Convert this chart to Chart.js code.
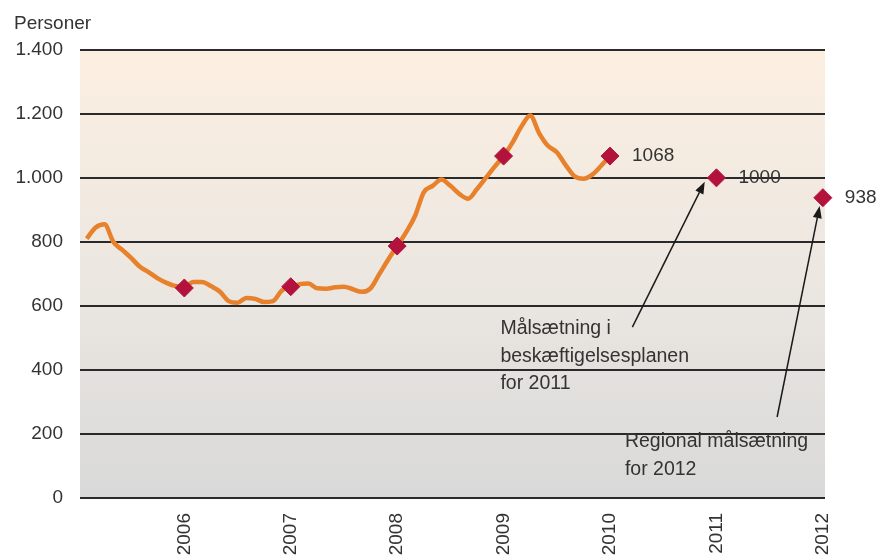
<!DOCTYPE html>
<html><head><meta charset="utf-8">
<script src="https://cdn.jsdelivr.net/npm/chart.js@4/dist/chart.umd.min.js"></script>
<style>html,body{margin:0;padding:0;background:#fff}#wrap{width:879px;height:558px}</style>
</head><body><div id="wrap"><canvas id="c" width="879" height="558"></canvas></div>
<script>
// ---- data ----
const yearTicks = [2006, 2007, 2008, 2009, 2010, 2011, 2012];
const yTicks = [0, 200, 400, 600, 800, 1000, 1200, 1400];
const startYear = 2005, startMonth = 2; // first monthly observation: Feb 2005
const monthlyValues = [810,845,855,800,775,750,722,705,686,672,662,660,675,675,662,645,615,610,625,622,612,615,648,660,668,670,655,654,658,660,652,644,655,700,745,787,830,880,955,975,995,975,950,935,965,1000,1035,1068,1110,1160,1195,1140,1100,1080,1040,1005,997,1010,1038,1068];
const markerYears = [2006, 2007, 2008, 2009, 2010, 2011, 2012];
const markerValues = [656, 660, 787, 1068, 1068, 1000, 938];
const markerLabels = ['', '', '', '', '1068', '1000', '938'];
const axisTitle = 'Personer';
const noteTexts = [
  ['Målsætning i', 'beskæftigelsesplanen', 'for 2011'],
  ['Regional målsætning', 'for 2012']
];
// annotation anchors in data units (x = year, y = persons)
const noteAnchors = [
  {tx: 2008.97, ty: 528, ax: 2010.21, ay: 534, bx: 2010.89, by: 988},
  {tx: 2010.14, ty: 175, ax: 2011.57, ay: 253, bx: 2011.97, by: 912}
];

const FONT = '"Liberation Sans", Arial, sans-serif';
const fmt = v => String(v).replace(/\B(?=(\d{3})+(?!\d))/g, '.');

const bgPlugin = {
  id: 'bg',
  beforeDraw(chart) {
    const {ctx, chartArea: a} = chart;
    const g = ctx.createLinearGradient(0, a.top, 0, a.bottom);
    g.addColorStop(0, '#fcefe1');
    g.addColorStop(0.5, '#ece7e1');
    g.addColorStop(1, '#d9d9d9');
    ctx.save(); ctx.fillStyle = g;
    ctx.fillRect(a.left, a.top, a.right - a.left, a.bottom - a.top);
    ctx.restore();
  }
};

function arrow(ctx, x1, y1, x2, y2) {
  const ang = Math.atan2(y2 - y1, x2 - x1), L = 12, W = 4.5;
  ctx.beginPath(); ctx.moveTo(x1, y1);
  ctx.lineTo(x2 - L * Math.cos(ang), y2 - L * Math.sin(ang)); ctx.stroke();
  ctx.beginPath(); ctx.moveTo(x2, y2);
  ctx.lineTo(x2 - L * Math.cos(ang) + W * Math.sin(ang), y2 - L * Math.sin(ang) - W * Math.cos(ang));
  ctx.lineTo(x2 - L * Math.cos(ang) - W * Math.sin(ang), y2 - L * Math.sin(ang) + W * Math.cos(ang));
  ctx.closePath(); ctx.fill();
}

const notePlugin = {
  id: 'notes',
  afterDatasetsDraw(chart) {
    const {ctx, scales: {x, y}} = chart;
    ctx.save();
    ctx.font = '19px ' + FONT; ctx.fillStyle = '#333';
    ctx.textAlign = 'left'; ctx.textBaseline = 'middle';
    markerYears.forEach((yr, i) => {
      if (markerLabels[i]) ctx.fillText(markerLabels[i], x.getPixelForValue(yr) + 22, y.getPixelForValue(markerValues[i]));
    });
    ctx.font = '19.5px ' + FONT;
    noteAnchors.forEach((n, k) => {
      const tx = x.getPixelForValue(n.tx), ty = y.getPixelForValue(n.ty);
      noteTexts[k].forEach((t, j) => ctx.fillText(t, tx, ty + j * 27.5));
      ctx.strokeStyle = '#1a1a1a'; ctx.fillStyle = '#1a1a1a'; ctx.lineWidth = 1.5;
      arrow(ctx, x.getPixelForValue(n.ax), y.getPixelForValue(n.ay), x.getPixelForValue(n.bx), y.getPixelForValue(n.by));
      ctx.fillStyle = '#333';
    });
    ctx.restore();
  }
};

new Chart(document.getElementById('c'), {
  type: 'line',
  data: {
    datasets: [
      {
        data: monthlyValues.map((v, i) => ({x: startYear + (startMonth - 1 + i) / 12, y: v})),
        borderColor: '#e8812b', borderWidth: 4.5, pointRadius: 0, tension: 0.35,
        cubicInterpolationMode: 'monotone', order: 2
      },
      {
        data: markerYears.map((yr, i) => ({x: yr, y: markerValues[i]})),
        showLine: false, pointStyle: 'rectRot', pointRadius: 9,
        backgroundColor: '#b3123d', borderColor: '#b3123d', borderWidth: 1, clip: false, order: 1
      }
    ]
  },
  options: {
    responsive: false, animation: false, events: [],
    layout: {padding: {top: 0, left: 14, right: 54, bottom: 0}},
    plugins: {
      legend: {display: false}, tooltip: {enabled: false},
      title: {display: true, text: axisTitle, align: 'start', color: '#333',
        font: {size: 19, family: FONT, weight: 'normal'}, padding: {top: 12, bottom: 15}}
    },
    scales: {
      x: {
        type: 'linear', min: 2005.02, max: 2012.02,
        afterBuildTicks: s => { s.ticks = yearTicks.map(v => ({value: v})); },
        afterFit: s => { s.height = 60; },
        grid: {display: false}, border: {display: false},
        ticks: {minRotation: 90, maxRotation: 90, padding: 7, color: '#333',
          font: {size: 19, family: FONT}, callback: v => String(v)}
      },
      y: {
        min: 0, max: 1400,
        afterBuildTicks: s => { s.ticks = yTicks.map(v => ({value: v})); },
        afterFit: s => { s.width = 66; },
        grid: {color: '#2a2a2a', lineWidth: 2, drawTicks: false}, border: {display: false},
        ticks: {padding: 17, color: '#333', font: {size: 19, family: FONT}, callback: v => fmt(v)}
      }
    }
  },
  plugins: [bgPlugin, notePlugin]
});
</script></body></html>
